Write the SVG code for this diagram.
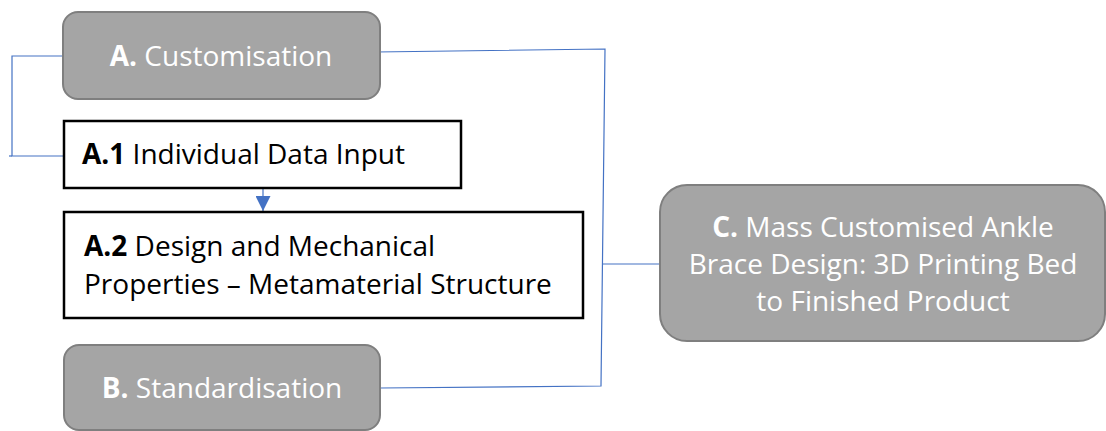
<svg xmlns="http://www.w3.org/2000/svg" width="1106" height="431" viewBox="0 0 1106 431">
<defs>
<style>
.g{fill:#a5a5a5;stroke:#7f7f7f;stroke-width:2}
.w{fill:#ffffff;stroke:#000000;stroke-width:2.5}
.t{font-family:"Open Sans","Liberation Sans",sans-serif;font-size:28px}
.tw{fill:#ffffff}
.tb{fill:#000000}
.b{font-weight:bold}
.c{fill:none;stroke:#4472c4;stroke-width:1.2}
</style>
<marker id="ah" viewBox="0 0 10 10" refX="10" refY="5" markerWidth="15" markerHeight="15" markerUnits="userSpaceOnUse" orient="auto">
<path d="M0,0 L10,5 L0,10 Z" fill="#4472c4"/>
</marker>
</defs>
<g id="connectors">
<polyline class="c" points="63,56 12,56 12,156 63,156"/>
<line class="c" x1="9" y1="156" x2="12" y2="156"/>
<line class="c" x1="263" y1="189" x2="263" y2="211" marker-end="url(#ah)"/>
<polyline class="c" points="376,52 605,49 601,386 380,388"/>
<line class="c" x1="603" y1="264" x2="660" y2="264"/>
</g>
<g id="nodeA">
<rect class="g" x="63" y="12" width="317" height="87" rx="15"/>
<text class="t tw" x="221" y="66" text-anchor="middle"><tspan class="b">A.</tspan> Customisation</text>
</g>
<g id="nodeA1">
<rect class="w" x="64" y="121" width="397" height="67"/>
<text class="t tb" x="82" y="164"><tspan class="b">A.1</tspan> Individual Data Input</text>
</g>
<g id="nodeA2">
<rect class="w" x="64" y="212" width="519" height="106"/>
<text class="t tb" x="84" y="256"><tspan class="b">A.2</tspan> Design and Mechanical</text>
<text class="t tb" x="84" y="294">Properties – Metamaterial Structure</text>
</g>
<g id="nodeB">
<rect class="g" x="64" y="345" width="316" height="85" rx="15"/>
<text class="t tw" x="222" y="398" text-anchor="middle"><tspan class="b">B.</tspan> Standardisation</text>
</g>
<g id="nodeC">
<rect class="g" x="660" y="185" width="445" height="156" rx="27"/>
<text class="t tw" x="883" y="237" text-anchor="middle"><tspan class="b">C.</tspan> Mass Customised Ankle</text>
<text class="t tw" x="883" y="274" text-anchor="middle">Brace Design: 3D Printing Bed</text>
<text class="t tw" x="883" y="311" text-anchor="middle">to Finished Product</text>
</g>
</svg>
